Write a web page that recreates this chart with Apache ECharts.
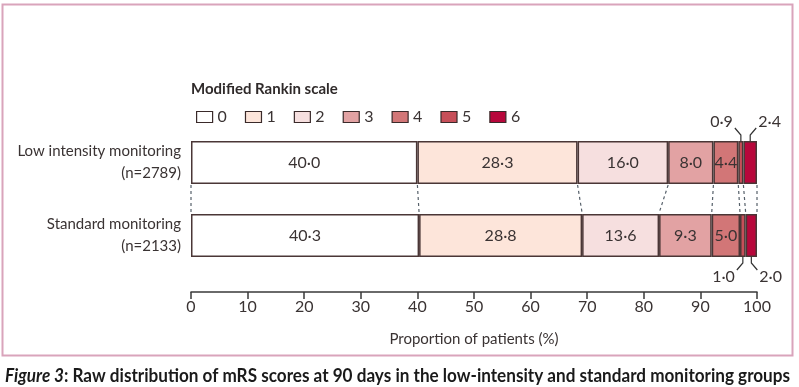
<!DOCTYPE html>
<html>
<head>
<meta charset="utf-8">
<script src="https://cdn.jsdelivr.net/npm/echarts@6/dist/echarts.min.js"></script>
<style>
html,body{margin:0;padding:0;background:#fff;}
#chart{width:799px;height:387px;}
</style>
</head>
<body>
<div id="chart"></div>
<script>
// ---- data ----
const categories = ['Low intensity monitoring\n(n=2789)', 'Standard monitoring\n(n=2133)'];
const mrsLevels = ['0', '1', '2', '3', '4', '5', '6'];
const lowIntensity = [40.0, 28.3, 16.0, 8.0, 4.4, 0.9, 2.4];
const standardMonitoring = [40.3, 28.8, 13.6, 9.3, 5.0, 1.0, 2.0];
const xTickValues = [0, 10, 20, 30, 40, 50, 60, 70, 80, 90, 100];
const legendTitle = 'Modified Rankin scale';
const xAxisTitle = 'Proportion of patients (%)';
const captionLead = 'Figure 3';
const captionRest = ': Raw distribution of mRS scores at 90 days in the low-intensity and standard monitoring groups';

// ---- styles ----
const colors = ['#ffffff', '#fde5da', '#f6dfdf', '#e2a2a3', '#d27677', '#c74f59', '#b7073b'];
const borderColor = '#4a3636';
const textColor = '#3a3333';
const FONT = 'Lato';
const BAR_W = 43;

const fmt = v => v.toFixed(1).replace('.', '·');

function cumulative(arr) {
  const out = [0];
  let s = 0;
  arr.forEach(v => { s = Math.round((s + v) * 10) / 10; out.push(s); });
  return out;
}
const cumLow = cumulative(lowIntensity);
const cumStd = cumulative(standardMonitoring);

const barSeries = mrsLevels.map((lvl, i) => ({
  name: lvl,
  type: 'bar',
  stack: 'mrs',
  barWidth: BAR_W,
  itemStyle: { color: colors[i], borderColor: borderColor, borderWidth: 1.5 },
  label: {
    show: true,
    position: 'inside',
    fontFamily: FONT,
    fontSize: 16,
    color: textColor,
    formatter: p => (p.value >= 3 ? fmt(p.value) : '')
  },
  emphasis: { disabled: true },
  data: [lowIntensity[i], standardMonitoring[i]]
}));

// connectors between bars
const connectorData = cumLow.map((v, k) => [v, cumStd[k], 0]);
const connectorSeries = {
  type: 'custom',
  coordinateSystem: 'cartesian2d',
  encode: { x: [0, 1], y: 2 },
  silent: true,
  z: 1,
  renderItem: (params, api) => {
    const a = api.coord([api.value(0), 0]);
    const b = api.coord([api.value(1), 1]);
    return {
      type: 'line',
      shape: { x1: a[0], y1: a[1] + BAR_W / 2 + 1, x2: b[0], y2: b[1] - BAR_W / 2 - 1 },
      style: { stroke: '#56606a', lineWidth: 1.2, lineDash: [3, 3] }
    };
  },
  data: connectorData
};

// leader labels for small segments: [center, categoryIndex, dir, side, value]
const leaderData = [];
[[lowIntensity, cumLow, 0, -1], [standardMonitoring, cumStd, 1, 1]].forEach(([vals, cum, ci, dir]) => {
  let side = -1;
  vals.forEach((v, i) => {
    if (v < 3) {
      leaderData.push([(cum[i] + cum[i + 1]) / 2, ci, dir, side, v]);
      side = 1;
    }
  });
});
const leaderSeries = {
  type: 'custom',
  coordinateSystem: 'cartesian2d',
  encode: { x: 0, y: 1 },
  silent: true,
  z: 5,
  renderItem: (params, api) => {
    const p = api.coord([api.value(0), api.value(1)]);
    const dir = api.value(2), side = api.value(3), v = api.value(4);
    const y0 = p[1] + dir * BAR_W / 2;
    const y1 = y0 + dir * 6;
    const x2 = p[0] + side * 6;
    const y2 = y1 + dir * 7;
    return {
      type: 'group',
      children: [
        {
          type: 'polyline',
          shape: { points: [[p[0], y0], [p[0], y1], [x2, y2]] },
          style: { stroke: '#333', lineWidth: 1.2, fill: null }
        },
        {
          type: 'text',
          style: {
            x: x2 + side * 2,
            y: y2 + (dir < 0 ? 2 : -1),
            text: fmt(v),
            fontFamily: FONT,
            fontSize: 16,
            fill: textColor,
            align: side < 0 ? 'right' : 'left',
            verticalAlign: dir < 0 ? 'bottom' : 'top'
          }
        }
      ]
    };
  },
  data: leaderData
};

// caption width fitting
const CAP_SIZE = 19;
const ctx = document.createElement('canvas').getContext('2d');
ctx.font = 'italic bold ' + CAP_SIZE + 'px ' + FONT;
const wLead = ctx.measureText(captionLead).width;
ctx.font = 'bold ' + CAP_SIZE + 'px ' + FONT;
const wRest = ctx.measureText(captionRest).width;
const capScale = 785 / (wLead + wRest);

const chart = echarts.init(document.getElementById('chart'));
chart.setOption({
  animation: false,
  title: {
    text: legendTitle,
    left: 186,
    top: 77,
    textStyle: { fontFamily: FONT, fontSize: 15, fontWeight: 'bold', color: '#2f2a2a' }
  },
  legend: {
    data: mrsLevels,
    left: 191,
    top: 104,
    itemWidth: 16,
    itemHeight: 11,
    itemGap: 18,
    icon: 'rect',
    itemStyle: { borderColor: '#3a2a2a', borderWidth: 1.2 },
    textStyle: { fontFamily: FONT, fontSize: 16, color: textColor },
    selectedMode: false
  },
  grid: { left: 191, right: 42, top: 126, bottom: 115, containLabel: false },
  xAxis: {
    type: 'value',
    min: 0,
    max: 100,
    interval: 10,
    offset: 20,
    axisLine: { show: true, lineStyle: { color: '#3a3a3a', width: 1.5 } },
    axisTick: { show: true, length: 7, lineStyle: { color: '#3a3a3a', width: 1.5 } },
    splitLine: { show: false },
    axisLabel: {
      fontFamily: FONT, fontSize: 16, color: textColor, margin: 7,
      formatter: v => (xTickValues.includes(v) ? String(v) : '')
    },
    name: xAxisTitle,
    nameLocation: 'middle',
    nameGap: 40,
    nameTextStyle: { fontFamily: FONT, fontSize: 15, color: textColor }
  },
  yAxis: {
    type: 'category',
    inverse: true,
    data: categories,
    axisLine: { show: false },
    axisTick: { show: false },
    axisLabel: {
      fontFamily: FONT, fontSize: 15, color: textColor, margin: 10,
      align: 'right', lineHeight: 22
    }
  },
  graphic: [
    {
      type: 'rect',
      shape: { x: 2.5, y: 4.5, width: 790, height: 351 },
      style: { fill: null, stroke: '#d9a4bb', lineWidth: 2 },
      silent: true
    },
    {
      type: 'text',
      x: 5,
      y: 376,
      scaleX: capScale,
      style: {
        text: '{a|' + captionLead + '}{b|' + captionRest + '}',
        verticalAlign: 'middle',
        rich: {
          a: { fontFamily: FONT, fontSize: CAP_SIZE, fontStyle: 'italic', fontWeight: 'bold', fill: '#1a1a1a' },
          b: { fontFamily: FONT, fontSize: CAP_SIZE, fontWeight: 'bold', fill: '#1a1a1a' }
        }
      },
      silent: true
    }
  ],
  series: [connectorSeries].concat(barSeries, [leaderSeries])
});
</script>
</body>
</html>
